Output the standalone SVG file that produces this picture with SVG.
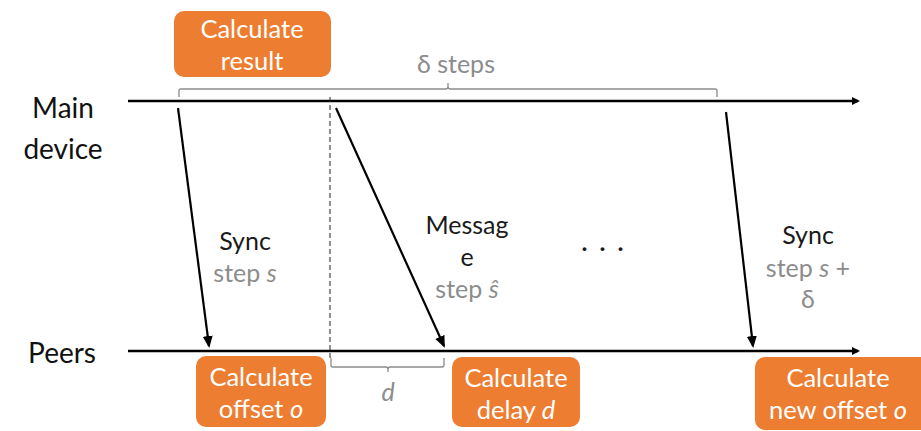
<svg xmlns="http://www.w3.org/2000/svg" width="921" height="431" viewBox="0 0 921 431">
  <style>
    .box { fill: #ED7D31; }
    .boxtxt { fill: #ffffff; font-family: Lato, "Open Sans", sans-serif; font-size: 25.5px; text-anchor: middle; }
    .lbl { fill: #1a1a1a; font-family: Lato, "Open Sans", sans-serif; font-size: 25px; text-anchor: middle; }
    .side { fill: #111111; font-family: Lato, "Open Sans", sans-serif; font-size: 28px; text-anchor: middle; }
    .gray { fill: #8c8c8c; font-family: Lato, "Open Sans", sans-serif; font-size: 25px; text-anchor: middle; }
    .axis { stroke: #000; stroke-width: 2.5; fill: none; }
    .msg { stroke: #000; stroke-width: 2.2; fill: none; }
    .brace { stroke: #8c8c8c; stroke-width: 1.3; fill: none; }
  </style>
  <defs>
    <marker id="ah" markerWidth="8" markerHeight="8" refX="6" refY="4" orient="auto" markerUnits="userSpaceOnUse" viewBox="0 0 8 8">
      <path d="M0,0 L8,4 L0,8 Z" fill="#000"/>
    </marker>
    <marker id="ah2" markerWidth="12" markerHeight="12" refX="10" refY="6" orient="auto" markerUnits="userSpaceOnUse" viewBox="0 0 12 12">
      <path d="M0,1 L12,6 L0,11 Z" fill="#000"/>
    </marker>
  </defs>
  <rect width="921" height="431" fill="#ffffff"/>

  <!-- timelines -->
  <g id="main-device">
    <text class="side" x="63" y="118">Main</text>
    <text class="side" x="63" y="159">device</text>
    <line class="axis" x1="128" y1="101" x2="858" y2="101" marker-end="url(#ah)"/>
  </g>
  <g id="peers">
    <text class="side" x="62" y="363">Peers</text>
    <line class="axis" x1="128" y1="351" x2="858" y2="351" marker-end="url(#ah)"/>
  </g>

  <!-- step span annotations -->
  <g id="delta-steps">
    <path class="brace" d="M179,97 V91 Q179,89 181,89 H446 Q448,89 448,86 V83 M448,86 Q448,89 450,89 H715 Q717,89 717,91 V97"/>
    <text class="gray" x="456" y="73">δ steps</text>
  </g>
  <g id="delay-span">
    <line x1="330" y1="97" x2="330" y2="358" stroke="#222" stroke-width="1" stroke-dasharray="5,3"/>
    <path class="brace" d="M331,358 V365 Q331,367 333,367 H386 Q388,367 388,370 V372 M388,370 Q388,367 390,367 H442 Q444,367 444,365 V358"/>
    <text class="gray" x="388" y="401" font-style="italic">d</text>
  </g>

  <!-- nodes -->
  <g id="calc-result">
    <rect class="box" x="174" y="11" width="157" height="66" rx="10"/>
    <text class="boxtxt" x="252" y="38">Calculate</text>
    <text class="boxtxt" x="252" y="70">result</text>
  </g>
  <g id="calc-offset">
    <rect class="box" x="196" y="356" width="130" height="71" rx="10"/>
    <text class="boxtxt" x="261" y="386">Calculate</text>
    <text class="boxtxt" x="261" y="418">offset <tspan font-style="italic">o</tspan></text>
  </g>
  <g id="calc-delay">
    <rect class="box" x="452" y="357" width="128" height="70" rx="10"/>
    <text class="boxtxt" x="516" y="387">Calculate</text>
    <text class="boxtxt" x="516" y="419">delay <tspan font-style="italic">d</tspan></text>
  </g>
  <g id="calc-new-offset">
    <rect class="box" x="755" y="357" width="175" height="73" rx="10"/>
    <text class="boxtxt" x="838" y="387">Calculate</text>
    <text class="boxtxt" x="838" y="419">new offset <tspan font-style="italic">o</tspan></text>
  </g>

  <!-- message labels -->
  <g id="sync-1">
    <text class="lbl" x="245" y="250">Sync</text>
    <text class="gray" x="245" y="282">step <tspan font-style="italic">s</tspan></text>
  </g>
  <g id="message">
    <text class="lbl" x="467" y="234">Messag</text>
    <text class="lbl" x="467" y="266">e</text>
    <text class="gray" x="467" y="298">step <tspan font-style="italic">ŝ</tspan></text>
  </g>
  <g id="ellipsis">
    <text class="lbl" x="604" y="251" font-size="30" font-weight="bold" letter-spacing="3">. . .</text>
  </g>
  <g id="sync-2">
    <text class="lbl" x="808" y="244">Sync</text>
    <text class="gray" x="808" y="277">step <tspan font-style="italic">s</tspan> +</text>
    <text class="gray" x="808" y="308">δ</text>
  </g>

  <!-- connectors -->
  <g id="connectors">
    <line class="msg" x1="178" y1="108" x2="209" y2="346" marker-end="url(#ah2)"/>
    <line class="msg" x1="336" y1="108" x2="444" y2="346" marker-end="url(#ah2)"/>
    <line class="msg" x1="726" y1="112" x2="753" y2="346" marker-end="url(#ah2)"/>
  </g>
</svg>
